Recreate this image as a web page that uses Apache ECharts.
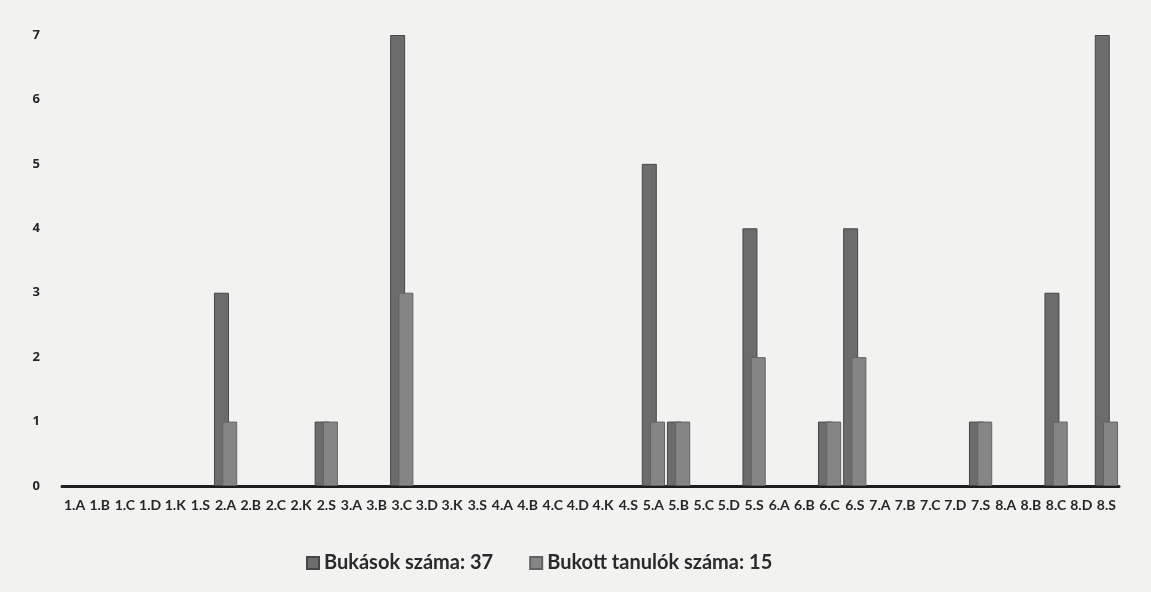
<!DOCTYPE html>
<html>
<head>
<meta charset="utf-8">
<script src="https://cdn.jsdelivr.net/npm/echarts@6/dist/echarts.min.js"></script>
<style>
    html, body { margin: 0; padding: 0; background: #f2f2f1; }
    #box { width: 1151px; height: 592px; }
</style>
</head>
<body>
<div id="box"></div>
<script>
    var classes = ['1.A', '1.B', '1.C', '1.D', '1.K', '1.S', '2.A', '2.B', '2.C', '2.K', '2.S',
        '3.A', '3.B', '3.C', '3.D', '3.K', '3.S', '4.A', '4.B', '4.C', '4.D', '4.K', '4.S',
        '5.A', '5.B', '5.C', '5.D', '5.S', '6.A', '6.B', '6.C', '6.S',
        '7.A', '7.B', '7.C', '7.D', '7.S', '8.A', '8.B', '8.C', '8.D', '8.S']
    // bukasok szama (osszesen 37)
    var bukasok = [0, 0, 0, 0, 0, 0, 3, 0, 0, 0, 1,
        0, 0, 7, 0, 0, 0, 0, 0, 0, 0, 0, 0,
        5, 1, 0, 0, 4, 0, 0, 1, 4,
        0, 0, 0, 0, 1, 0, 0, 3, 0, 7]
    // bukott tanulok szama (osszesen 15)
    var bukottTanulok = [0, 0, 0, 0, 0, 0, 1, 0, 0, 0, 1,
        0, 0, 3, 0, 0, 0, 0, 0, 0, 0, 0, 0,
        1, 1, 0, 0, 2, 0, 0, 1, 2,
        0, 0, 0, 0, 1, 0, 0, 1, 0, 1]
    var seriesNames = ['Bukások száma: 37', 'Bukott tanulók száma: 15']

    // 0 -> nincs oszlop (kulonben a keret vonalat rajzol)
    var noZero = function (arr) {
        return arr.map(function (v) { return v === 0 ? '-' : v })
    }

    var Chart = echarts.init(document.getElementById('box'))
    var option = {
        backgroundColor: '#f2f2f1',
        textStyle: { fontFamily: 'Lato' },
        legend: {
            data: seriesNames,
            bottom: 14,
            left: 301,
            itemWidth: 12,
            itemHeight: 12,
            itemGap: 36,
            icon: 'rect',
            textStyle: { fontSize: 20, fontWeight: 'bold', color: '#2a2a2a', fontFamily: 'Lato' }
        },
        grid: { left: 62, right: 32, top: 35, bottom: 106 },
        xAxis: {
            type: 'category',
            data: classes,
            axisTick: { show: false },
            axisLine: { lineStyle: { color: '#1e1e1e', width: 3 } },
            axisLabel: {
                interval: 0,
                margin: 12,
                fontSize: 14,
                fontWeight: 'bold',
                color: '#262626',
                fontFamily: 'Lato'
            }
        },
        yAxis: {
            type: 'value',
            min: 0,
            max: 7,
            interval: 1,
            splitLine: { show: false },
            axisLine: { show: false },
            axisTick: { show: false },
            axisLabel: { fontSize: 13, fontWeight: 'bold', color: '#262626', margin: 22, fontFamily: 'Open Sans' }
        },
        series: [
            {
                name: seriesNames[0],
                type: 'bar',
                data: noZero(bukasok),
                barWidth: 15,
                barGap: '-45%',
                z: 2,
                itemStyle: { color: '#6c6c6c', borderColor: '#474747', borderWidth: 1 }
            },
            {
                name: seriesNames[1],
                type: 'bar',
                data: noZero(bukottTanulok),
                barWidth: 15,
                barGap: '-45%',
                z: 3,
                itemStyle: { color: '#858585', borderColor: '#626262', borderWidth: 1 }
            }
        ]
    }
    Chart.setOption(option)
</script>
</body>
</html>
